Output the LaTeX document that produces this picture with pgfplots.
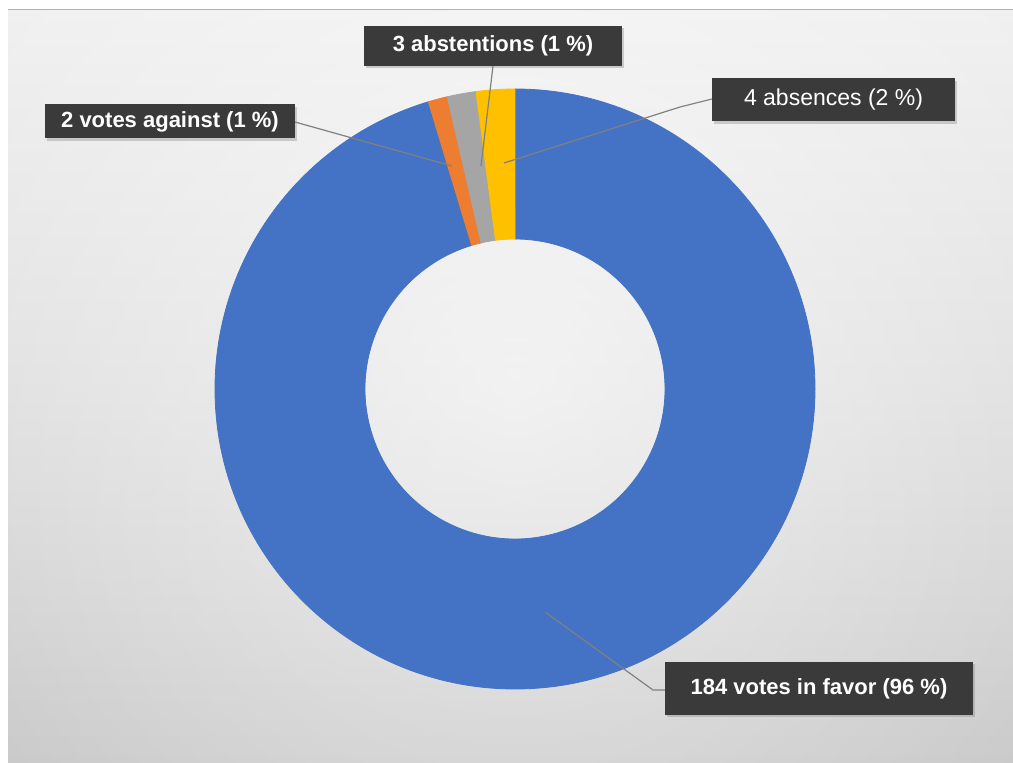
\documentclass[border=0pt]{standalone}
\usepackage{pgfplots}
\pgfplotsset{compat=1.18}
\usepackage{pgfplotstable}
\usepackage{fontspec}
\setmainfont{Liberation Sans}
\usetikzlibrary{shadows,fadings}

% slice colours, in table order
\definecolor{slice0}{HTML}{4472C4}
\definecolor{slice1}{HTML}{ED7D31}
\definecolor{slice2}{HTML}{A5A5A5}
\definecolor{slice3}{HTML}{FFC000}
\definecolor{labelbox}{HTML}{3A3A3A}
\definecolor{leader}{HTML}{808080}
\definecolor{bgtop}{HTML}{F0F0F0}
\definecolor{bgbot}{HTML}{C9C9C9}

\tikzfading[name=centreglow, inner color=transparent!0, outer color=transparent!100]

% votes, clockwise from 12 o'clock
\pgfplotstableread{
label   idx value
favor   0   184
against 1   2
abstain 2   3
absent  3   4
}\votes
\pgfplotstablecreatecol[expr accum={\pgfmathaccuma+\thisrow{value}}{0}]{cum}{\votes}
\pgfplotstablegetelem{3}{cum}\of{\votes}
\let\votetotal\pgfplotsretval

\def\Ro{150pt}
\def\Ri{75pt}

\begin{document}
\begin{tikzpicture}
\useasboundingbox (0,0) rectangle (506.5pt,381pt);
\fill[white] (0,0) rectangle (506.5pt,381pt);
\shade[top color=bgtop, bottom color=bgbot, middle color=bgtop!55!bgbot] (4pt,0) rectangle (506.5pt,376pt);
\fill[white, opacity=0.6, path fading=centreglow] (257.5pt,194pt) circle[radius=330pt];
\draw[gray!60, line width=0.5pt] (4pt,376pt) -- (506.5pt,376pt);

\begin{axis}[
  at={(257.5pt,186.5pt)}, anchor=origin,
  hide axis, scale only axis, clip=false,
  width=300pt, height=300pt,
  xmin=-1, xmax=1, ymin=-1, ymax=1,
]
\addplot[scatter, only marks, mark=*, mark size=0.01pt,
  point meta=\thisrow{value},
  visualization depends on={\thisrow{cum}\as\sliceCum},
  visualization depends on={\thisrow{value}\as\sliceVal},
  visualization depends on={\thisrow{idx}\as\sliceIdx},
  scatter/@pre marker code/.code={%
    \pgfmathtruncatemacro\k{\sliceIdx}%
    \pgfmathsetmacro\aS{90-(\sliceCum-\sliceVal)*(360/\votetotal)}%
    \pgfmathsetmacro\aE{90-\sliceCum*(360/\votetotal)}%
    \fill[slice\k, opacity=1] (\aS:\Ro) arc[start angle=\aS, end angle=\aE, radius=\Ro]
      -- (\aE:\Ri) arc[start angle=\aE, end angle=\aS, radius=\Ri] -- cycle;
    \scope[opacity=0]},
  scatter/@post marker code/.code={\endscope},
] table[x expr=0, y expr=0] {\votes};
\end{axis}

% data labels, placed in pixel units of the reference
\begin{scope}[x=0.5pt, y=-0.5pt, yshift=381pt,
  lbl/.style={fill=labelbox, text=white, inner sep=0pt, align=center,
    drop shadow={shadow xshift=1.2pt, shadow yshift=-1.2pt, opacity=0.35}}]
  \draw[leader, line width=0.6pt] (295,122) -- (452,166);
  \draw[leader, line width=0.6pt] (493,66) -- (481,166);
  \draw[leader, line width=0.6pt] (712,99) -- (680,107) -- (504,163);
  \draw[leader, line width=0.6pt] (545,612) -- (653,690) -- (665,690);

  \node[lbl, minimum width=125pt, minimum height=17pt,
    font=\fontsize{11pt}{13pt}\selectfont\bfseries] at (170,121.5) {2 votes against (1 \%)};
  \node[lbl, minimum width=129pt, minimum height=20pt,
    font=\fontsize{11pt}{13pt}\selectfont\bfseries] at (493,46) {3 abstentions (1 \%)};
  \node[lbl, minimum width=121.5pt, minimum height=21.5pt,
    font=\fontsize{11.5pt}{13pt}\selectfont] at (833.5,100) {4 absences (2 \%)};
  \node[lbl, minimum width=154pt, minimum height=26.5pt,
    font=\fontsize{11pt}{13pt}\selectfont\bfseries] at (819,688.5) {184 votes in favor (96 \%)};
\end{scope}
\end{tikzpicture}
\end{document}
